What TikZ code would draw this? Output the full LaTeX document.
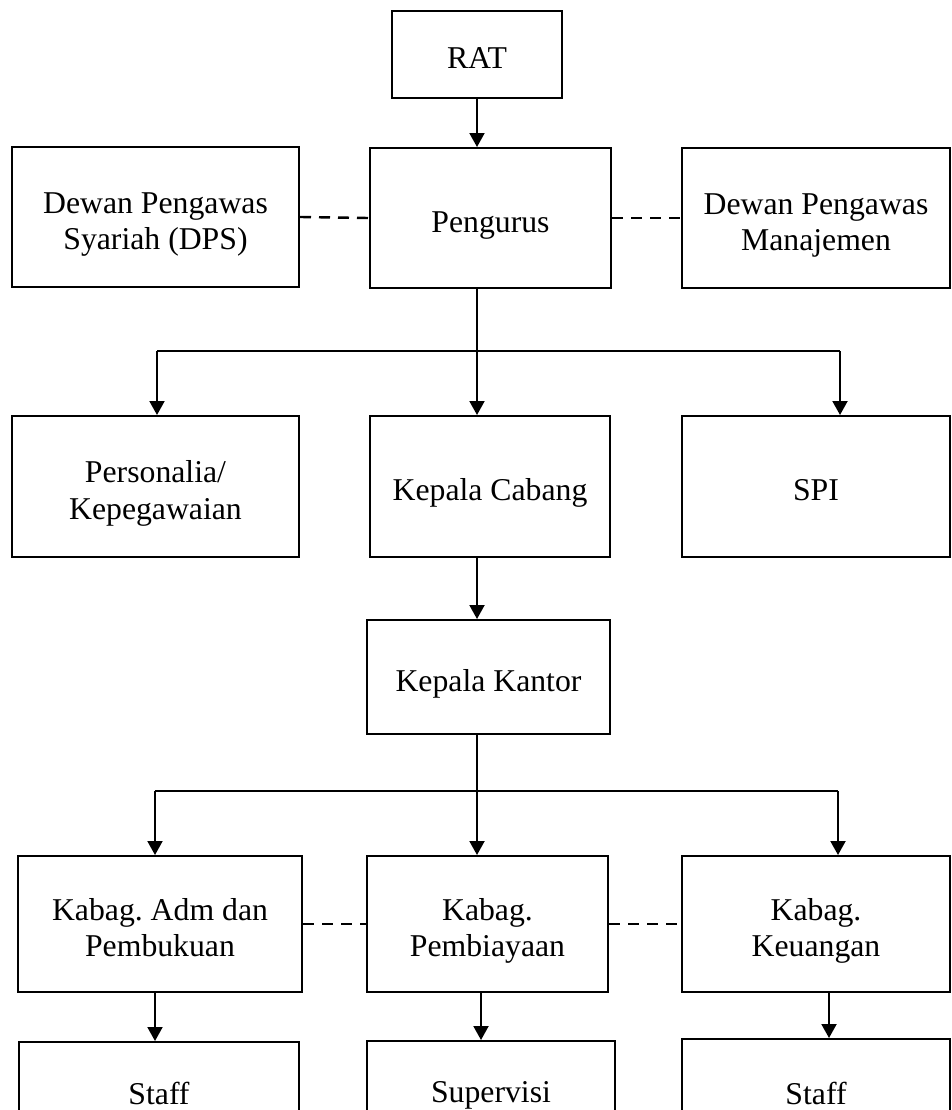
\documentclass[tikz,border=0pt]{standalone}
\usepackage{fontspec}
\setmainfont{Liberation Serif}
\usetikzlibrary{arrows.meta}
\frenchspacing
\newcommand\tstrut{\rule{0pt}{29.7pt}}
\begin{document}
\begin{tikzpicture}[x=0.75pt,y=-0.75pt,
  box/.style={draw,line width=1.5pt,inner sep=0pt,align=center,
    font=\fontsize{23.8pt}{27.4pt}\selectfont},
  arr/.style={line width=1.5pt,-{Triangle[width=11.25pt,length=10.5pt]}},
  conn/.style={line width=1.5pt},
  dashline/.style={line width=1.8pt,dash pattern=on 8.25pt off 6pt}]
\clip (0,0) rectangle (952,1110);
\fill[white] (0,0) rectangle (952,1110);
% nodes
\node[box,minimum width=127.5pt,minimum height=65.25pt] (rat) at (477,54.5) {\tstrut RAT\strut};
\node[box,minimum width=215.25pt,minimum height=105pt] (dps) at (155.5,217) {\tstrut Dewan Pengawas\\Syariah (DPS)\strut};
\node[box,minimum width=180.75pt,minimum height=105pt] (pengurus) at (490.5,218) {\tstrut Pengurus\strut};
\node[box,minimum width=201pt,minimum height=105pt] (dpm) at (816,218) {\tstrut Dewan Pengawas\\Manajemen\strut};
\node[box,minimum width=215.25pt,minimum height=105.75pt] (personalia) at (155.5,486.5) {\tstrut Personalia/\\Kepegawaian\strut};
\node[box,minimum width=180pt,minimum height=105.75pt] (kcabang) at (490,486.5) {\tstrut Kepala Cabang\strut};
\node[box,minimum width=201pt,minimum height=105.75pt] (spi) at (816,486.5) {\tstrut SPI\strut};
\node[box,minimum width=182.25pt,minimum height=85.5pt] (kkantor) at (488.5,677) {\tstrut Kepala Kantor\strut};
\node[box,minimum width=213pt,minimum height=102pt] (adm) at (160,924) {\tstrut Kabag. Adm dan\\Pembukuan\strut};
\node[box,minimum width=180.75pt,minimum height=102pt] (pemb) at (487.5,924) {\tstrut Kabag.\\Pembiayaan\strut};
\node[box,minimum width=201pt,minimum height=102pt] (keu) at (816,924) {\tstrut Kabag.\\Keuangan\strut};
\node[box,minimum width=210pt,minimum height=72pt] (staffa) at (159,1090) {\tstrut Staff\strut};
\node[box,minimum width=186pt,minimum height=70.5pt] (superv) at (491,1088) {\tstrut Supervisi\strut};
\node[box,minimum width=201pt,minimum height=76.5pt] (staffb) at (816,1090) {\tstrut Staff\strut};
% junction coordinates
\coordinate (jal) at (157,351);
\coordinate (jar) at (840,351);
\coordinate (jbl) at (155,791);
\coordinate (jbr) at (838,791);
\coordinate (ca) at (155,0);
\coordinate (cb) at (481,0);
\coordinate (cc) at (829,0);
% connectors
\draw[arr] (rat.south) -- (rat.south |- pengurus.north);
\draw[dashline] (dps.east) -- (pengurus.west);
\draw[dashline] (pengurus.east) -- (dpm.west);
\draw[arr] (rat.south |- pengurus.south) -- (rat.south |- kcabang.north);
\draw[conn] (jal) -- (jar);
\draw[arr] (jal) -- (jal |- personalia.north);
\draw[arr] (jar) -- (jar |- spi.north);
\draw[arr] (rat.south |- kcabang.south) -- (rat.south |- kkantor.north);
\draw[arr] (rat.south |- kkantor.south) -- (rat.south |- pemb.north);
\draw[conn] (jbl) -- (jbr);
\draw[arr] (jbl) -- (jbl |- adm.north);
\draw[arr] (jbr) -- (jbr |- keu.north);
\draw[dashline] (adm.east) -- (pemb.west);
\draw[dashline] (pemb.east) -- (keu.west);
\draw[arr] (ca |- adm.south) -- (ca |- staffa.north);
\draw[arr] (cb |- pemb.south) -- (cb |- superv.north);
\draw[arr] (cc |- keu.south) -- (cc |- staffb.north);
\end{tikzpicture}
\end{document}
